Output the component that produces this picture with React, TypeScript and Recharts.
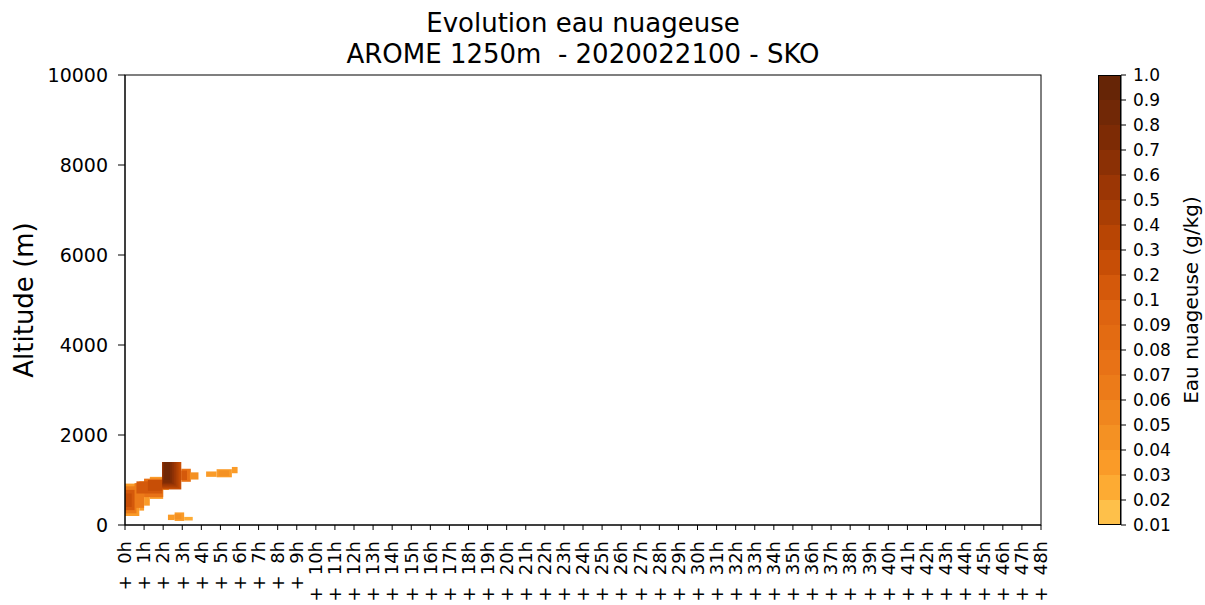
import React from 'react';
import { ComposedChart, XAxis, YAxis, ReferenceArea, BarChart, Bar } from 'recharts';

// forecast hours on the x axis
const hourTicks = [
  0, 1, 2, 3, 4, 5, 6, 7, 8, 9, 10, 11, 12, 13, 14, 15, 16, 17, 18, 19, 20, 21, 22, 23, 24,
  25, 26, 27, 28, 29, 30, 31, 32, 33, 34, 35, 36, 37, 38, 39, 40, 41, 42, 43, 44, 45, 46, 47, 48,
];
const altitudeTicks = [0, 2000, 4000, 6000, 8000, 10000];

// contour levels (g/kg) and their labels on the colorbar
const waterLevels = [
  0.01, 0.02, 0.03, 0.04, 0.05, 0.06, 0.07, 0.08, 0.09, 0.1,
  0.2, 0.3, 0.4, 0.5, 0.6, 0.7, 0.8, 0.9, 1.0,
];
const waterLevelLabels = [
  '0.01', '0.02', '0.03', '0.04', '0.05', '0.06', '0.07', '0.08', '0.09', '0.1',
  '0.2', '0.3', '0.4', '0.5', '0.6', '0.7', '0.8', '0.9', '1.0',
];
const binColors = [
  '#fec04a', '#fdab33', '#fa9b28', '#f49123', '#f0861e', '#ec7b19', '#e87216', '#e36b12', '#de6410',
  '#d4590b', '#c74e06', '#b84504', '#a93e04', '#9b3605', '#8b3005', '#7d2b05', '#712806', '#662506',
];

// cloud water patches: hour span, altitude span (m), value (g/kg); outer layers first
const cellHourStart = [0, 0.75, 1.0, 1.3, 2.0, 0, 0.5, 1.0, 0, 0.05, 0.6, 1.2, 1.95, 1.95, 1.95, 1.95, 1.97, 2.0, 2.05, 2.95, 2.95, 3.4, 4.25, 4.8, 5.6, 4.9, 2.25, 2.6, 3.1, 2.6];
const cellHourEnd = [0.75, 1.0, 1.3, 2.0, 2.3, 0.6, 1.0, 2.0, 0.5, 0.35, 1.95, 1.95, 2.95, 2.85, 2.75, 2.65, 2.55, 2.45, 2.35, 3.45, 3.25, 3.85, 4.8, 5.6, 5.9, 5.45, 2.6, 3.1, 3.55, 2.95];
const cellAltLow = [200, 320, 430, 580, 780, 260, 380, 620, 330, 400, 700, 760, 790, 820, 850, 880, 910, 940, 1000, 960, 1000, 1010, 1070, 1060, 1150, 1090, 110, 90, 100, 130];
const cellAltHigh = [920, 970, 1020, 1070, 1100, 860, 930, 1030, 780, 700, 970, 1000, 1400, 1400, 1400, 1400, 1400, 1400, 1400, 1250, 1210, 1170, 1190, 1240, 1290, 1210, 230, 280, 180, 240];
const cellWater = [0.03, 0.03, 0.03, 0.03, 0.04, 0.06, 0.06, 0.07, 0.1, 0.2, 0.1, 0.2, 0.2, 0.3, 0.4, 0.5, 0.6, 0.7, 0.8, 0.07, 0.1, 0.04, 0.03, 0.03, 0.03, 0.04, 0.03, 0.03, 0.02, 0.04];

const colorFor = (v: number) => {
  let bin = 0;
  for (let i = 0; i < binColors.length; i++) {
    if (v >= waterLevels[i] - 1e-9) bin = i;
  }
  return binColors[bin];
};

const chartData = hourTicks.map((h) => ({ h }));

const colorbarRow: Record<string, number | string> = { name: 'cb' };
binColors.forEach((_, i) => {
  colorbarRow['b' + i] = 1;
});
const colorbarData = [colorbarRow];

const font = 'DejaVu Sans, sans-serif';

const HourTick = (props: any) => {
  const { x, y, payload } = props;
  return (
    <g transform={`translate(${x},${y + 11})`}>
      <text
        transform="rotate(-90)"
        textAnchor="end"
        dy="0.35em"
        fontSize={18}
        fill="#000"
        style={{ whiteSpace: 'pre' }}
      >
        {`+  ${payload.value}h`}
      </text>
    </g>
  );
};

export default function App() {
  return (
    <div style={{ position: 'absolute', left: 0, top: 0, width: 1205, height: 605, background: '#fff', fontFamily: font }}>
      <div style={{ position: 'absolute', left: 0, top: 0 }}>
        <ComposedChart width={1205} height={605} data={chartData} margin={{ top: 75, right: 164, bottom: 20, left: 65 }}>
          <XAxis
            dataKey="h"
            type="number"
            domain={[0, 48]}
            allowDataOverflow
            ticks={hourTicks}
            interval={0}
            height={60}
            tickSize={5}
            tickMargin={0}
            tick={HourTick}
            axisLine={{ stroke: '#000' }}
            tickLine={{ stroke: '#000' }}
          />
          <YAxis
            type="number"
            domain={[0, 10000]}
            allowDataOverflow
            ticks={altitudeTicks}
            interval={0}
            width={60}
            tickSize={7}
            tickMargin={10}
            tick={{ fontSize: 19, fill: '#000' }}
            axisLine={{ stroke: '#000' }}
            tickLine={{ stroke: '#000' }}
          />
          {cellWater.map((v, i) => (
            <ReferenceArea
              key={i}
              x1={cellHourStart[i]}
              x2={cellHourEnd[i]}
              y1={cellAltLow[i]}
              y2={cellAltHigh[i]}
              fill={colorFor(v)}
              fillOpacity={1}
              stroke="none"
              ifOverflow="visible"
            />
          ))}
        </ComposedChart>
      </div>

      <div style={{ position: 'absolute', left: 1098, top: 0 }}>
        <BarChart width={107} height={605} data={colorbarData} margin={{ top: 75, right: 24, bottom: 80, left: 0 }} barCategoryGap={0} barGap={0}>
          <XAxis dataKey="name" hide />
          <YAxis
            orientation="right"
            type="number"
            domain={[0, 18]}
            ticks={waterLevels.map((_, i) => i)}
            interval={0}
            tickFormatter={(i: number) => waterLevelLabels[i]}
            width={60}
            tickSize={5}
            tickMargin={7}
            tick={{ fontSize: 17, fill: '#000', textAnchor: 'start' }}
            axisLine={{ stroke: '#000' }}
            tickLine={{ stroke: '#000' }}
          />
          {binColors.map((c, i) => (
            <Bar key={i} dataKey={'b' + i} stackId="cb" fill={c} isAnimationActive={false} />
          ))}
        </BarChart>
      </div>

      <svg width={1205} height={605} style={{ position: 'absolute', left: 0, top: 0, pointerEvents: 'none' }}>
        <rect x={125} y={75} width={916} height={450} fill="none" stroke="#000" strokeWidth={1} />
        <rect x={1098.5} y={75.5} width={22} height={449} fill="none" stroke="#000" strokeWidth={1} />
        <text x={583} y={32} textAnchor="middle" fontSize={26} fill="#000" style={{ whiteSpace: 'pre' }}>
          Evolution eau nuageuse
        </text>
        <text x={583} y={63} textAnchor="middle" fontSize={26} fill="#000" style={{ whiteSpace: 'pre' }}>
          {'AROME 1250m  - 2020022100 - SKO'}
        </text>
        <text transform="translate(33,300) rotate(-90)" textAnchor="middle" fontSize={26} fill="#000">
          Altitude (m)
        </text>
        <text transform="translate(1198,300) rotate(-90)" textAnchor="middle" fontSize={20} fill="#000">
          Eau nuageuse (g/kg)
        </text>
      </svg>
    </div>
  );
}
